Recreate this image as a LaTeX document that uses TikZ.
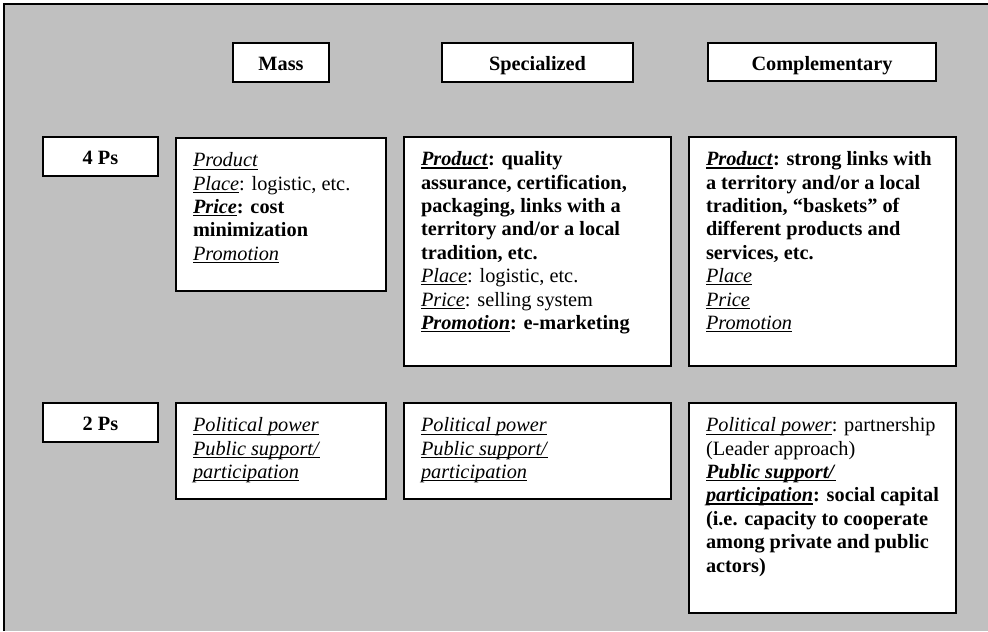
\documentclass[tikz,border=0pt]{standalone}
\usepackage{fontspec}
\setmainfont{Liberation Serif}
\usetikzlibrary{calc}
\definecolor{bggray}{RGB}{192,192,192}
\newdimen\pxu \pxu=0.591pt
\newcommand\uw[2][0.55pt]{\setbox0\hbox{#2}\leavevmode\rlap{\rule[-1.6pt]{\wd0}{#1}}\box0}
\newcommand\ub[1]{\uw[0.9pt]{#1}}
\newcommand\fs{\rule{0pt}{10pt}}
\begin{document}
\begin{tikzpicture}[x=0.591pt,y=-0.591pt,
  box/.style={draw, line width=1.1pt, fill=white, inner sep=0pt, outer sep=0pt, anchor=north west},
  head/.style={box, font=\fontsize{12}{13.8}\selectfont\bfseries, text height=10pt, text depth=0pt},
  txt/.style={anchor=north west, inner sep=0pt, outer sep=0pt, align=left, font=\fontsize{12}{13.8}\selectfont}]
\useasboundingbox (0,0) rectangle (988,631);
\fill[bggray] (4,4) rectangle (988,631);
\draw[line width=1pt] (4,631) -- (4,4) -- (988,4);
% column headers
\node[head, minimum width=96\pxu, minimum height=39\pxu] (mass) at (233,43) {Mass};
\node[head, minimum width=191\pxu, minimum height=39\pxu] (spec) at (442,43) {Specialized};
\node[head, minimum width=228\pxu, minimum height=38\pxu] (comp) at (708,43) {Complementary};
% row headers
\node[head, minimum width=115\pxu, minimum height=39\pxu] (four) at (43,137) {4 Ps};
\node[head, minimum width=115\pxu, minimum height=39\pxu] (two) at (43,403) {2 Ps};
% content boxes
\node[box, minimum width=210\pxu, minimum height=153\pxu] (m4) at (176,138) {};
\node[box, minimum width=267\pxu, minimum height=229\pxu] (s4) at (404,137) {};
\node[box, minimum width=267\pxu, minimum height=229\pxu] (c4) at (689,137) {};
\node[box, minimum width=210\pxu, minimum height=96\pxu] (m2) at (176,403) {};
\node[box, minimum width=267\pxu, minimum height=96\pxu] (s2) at (404,403) {};
\node[box, minimum width=267\pxu, minimum height=210\pxu] (c2) at (689,403) {};
% texts
\node[txt] (m4t) at ($(m4.north west)+(17,12)$) {\fs\uw{\textit{Product}}\\
\uw{\textit{Place}}: logistic, etc.\\
\textbf{\ub{\textit{Price}}: cost}\\
\textbf{minimization}\\
\uw{\textit{Promotion}}};
\node[txt] (s4t) at ($(s4.north west)+(17,12)$) {\fs\textbf{\ub{\textit{Product}}: quality}\\
\textbf{assurance, certification,}\\
\textbf{packaging, links with a}\\
\textbf{territory and/or a local}\\
\textbf{tradition, etc.}\\
\uw{\textit{Place}}: logistic, etc.\\
\uw{\textit{Price}}: selling system\\
\textbf{\ub{\textit{Promotion}}: e-marketing}};
\node[txt] (c4t) at ($(c4.north west)+(17,12)$) {\fs\textbf{\ub{\textit{Product}}: strong links with}\\
\textbf{a territory and/or a local}\\
\textbf{tradition, “baskets” of}\\
\textbf{different products and}\\
\textbf{services, etc.}\\
\uw{\textit{Place}}\\
\uw{\textit{Price}}\\
\uw{\textit{Promotion}}};
\node[txt] (m2t) at ($(m2.north west)+(17,12)$) {\fs\uw{\textit{Political power}}\\
\uw{\textit{Public support/}}\\
\uw{\textit{participation}}};
\node[txt] (s2t) at ($(s2.north west)+(17,12)$) {\fs\uw{\textit{Political power}}\\
\uw{\textit{Public support/}}\\
\uw{\textit{participation}}};
\node[txt] (c2t) at ($(c2.north west)+(17,12)$) {\fs\uw{\textit{Political power}}: partnership\\
(Leader approach)\\
\textbf{\ub{\textit{Public support/}}}\\
\textbf{\ub{\textit{participation}}: social capital}\\
\textbf{(i.e. capacity to cooperate}\\
\textbf{among private and public}\\
\textbf{actors)}};
\end{tikzpicture}
\end{document}
